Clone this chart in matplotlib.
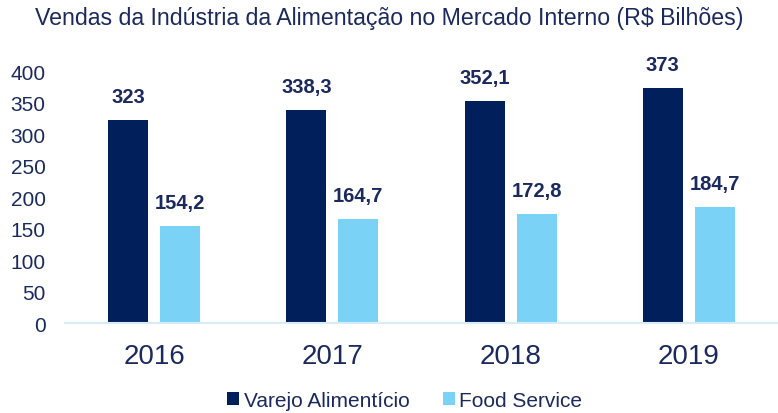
import numpy as np
import matplotlib
matplotlib.use("Agg")
import matplotlib.pyplot as plt

years = ["2016", "2017", "2018", "2019"]
varejo = [323, 338.3, 352.1, 373]
food_service = [154.2, 164.7, 172.8, 184.7]
varejo_labels = ["323", "338,3", "352,1", "373"]
food_labels = ["154,2", "164,7", "172,8", "184,7"]

navy = "#001f5b"
light = "#7ad3f7"
text_col = "#1b2a5e"

plt.rcParams["font.family"] = ["Liberation Sans", "DejaVu Sans"]

fig = plt.figure(figsize=(7.78, 4.14), dpi=100)
ax = fig.add_axes([0.0835, 0.217, 0.9165, 0.609])

x = np.arange(len(years))
w = 0.225
off = 0.146
b1 = ax.bar(x - off, varejo, w, color=navy, label="Varejo Alimentício")
b2 = ax.bar(x + off, food_service, w, color=light, label="Food Service")

# rótulos de valor acima das barras
for xi, v, s in zip(x, varejo, varejo_labels):
    ax.text(xi - off, v + 22, s, ha="center", va="bottom", fontsize=14.5,
            fontweight="bold", color=text_col)
for xi, v, s in zip(x, food_service, food_labels):
    ax.text(xi + off, v + 22, s, ha="center", va="bottom", fontsize=14.5,
            fontweight="bold", color=text_col)

ax.set_xlim(-0.5, 3.5)
ax.set_ylim(0, 400)
ax.set_yticks(np.arange(0, 401, 50))
ax.set_xticks(x)
ax.set_xticklabels(years)
ax.tick_params(axis="y", labelsize=15, colors=text_col, length=0, pad=14)
ax.tick_params(axis="x", labelsize=20, colors=text_col, length=0, pad=14)
for side in ["top", "right", "left"]:
    ax.spines[side].set_visible(False)
ax.spines["bottom"].set_color("#d6ecf8")
ax.spines["bottom"].set_linewidth(1.5)

fig.text(0.5, 0.955, "Vendas da Indústria da Alimentação no Mercado Interno (R$ Bilhões)",
         ha="center", va="center", fontsize=16.7, color=text_col)

fig.legend(handles=[b1, b2], loc="center", bbox_to_anchor=(0.52, 0.03), ncol=2,
           frameon=False, fontsize=15, handlelength=0.6, handleheight=0.6,
           handletextpad=0.2, columnspacing=1.6, labelcolor=text_col)

fig.savefig("out.png", dpi=100)
